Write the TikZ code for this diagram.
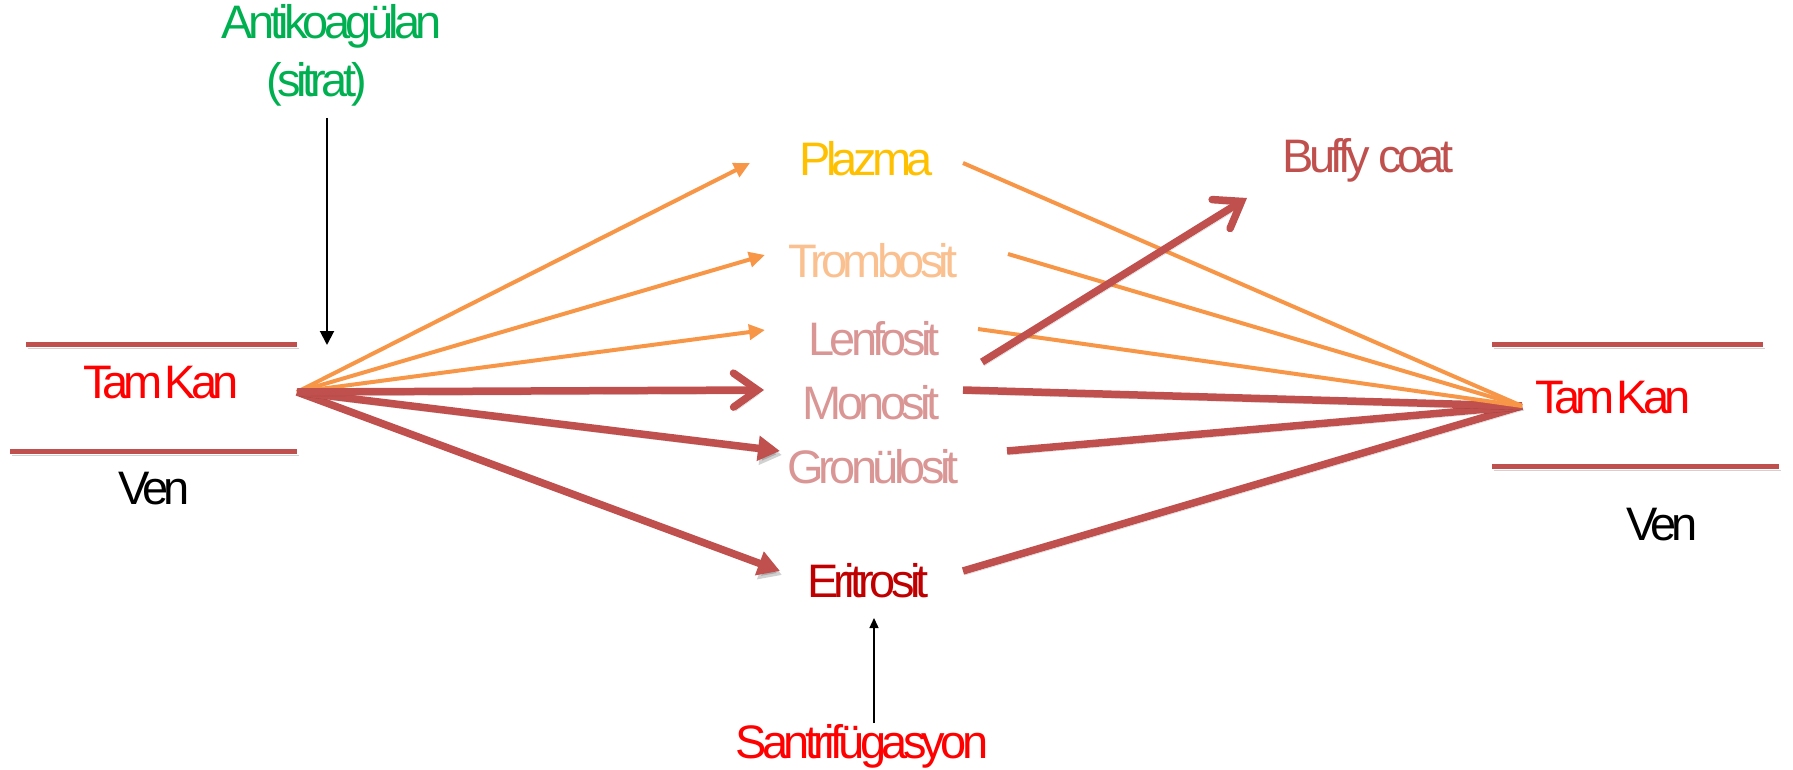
\documentclass[tikz,border=0pt]{standalone}
\usepackage{fontspec}
\setmainfont{Liberation Sans}
\newfontfamily\tightfont[LetterSpace=-10]{Liberation Sans}
\usetikzlibrary{arrows.meta}
\definecolor{veinred}{HTML}{C0504D}
\definecolor{orng}{HTML}{F79646}
\definecolor{plazmac}{HTML}{FFC000}
\definecolor{trombc}{HTML}{FAC090}
\definecolor{wbc}{HTML}{D99694}
\definecolor{eritc}{HTML}{C00000}
\definecolor{tamred}{HTML}{FF0000}
\definecolor{antig}{HTML}{00B050}
\begin{document}
\begin{tikzpicture}[x=1pt,y=-1pt,
  lbl/.style={inner sep=0pt, anchor=base, font=\tightfont\fontsize{47}{56}\selectfont},
  shadowed/.style={preaction={draw=black, opacity=0.18, transform canvas={shift={(2pt,-4pt)}}}},
  vein/.style={draw=veinred, line width=5pt, shadowed},
  oline/.style={draw=orng, line width=4pt},
  rline/.style={draw=veinred, line width=7.5pt, shadowed},
  otip/.style={-{Triangle[length=16pt,width=15pt]}},
  rtip/.style={-{Triangle[length=22pt,width=24pt]}},
  chev/.style={-{Straight Barb[length=24pt,width=34pt,line cap=round]}},
  blk/.style={draw=black}
]
\useasboundingbox (0,0) rectangle (1793,770);

% labels
\node[lbl, text=antig] (anti) at (332,39) {Antikoagülan};
\node[lbl, text=antig] (sitrat) at (317,97) {(sitrat)};
\node[lbl, text=tamred] (tkL) at (161,398) {Tam\kern-0.14em\ Kan};
\node[lbl, text=black] (venL) at (154,504) {Ven};
\node[lbl, text=plazmac] (plazma) at (866,176) {Plazma};
\node[lbl, text=trombc] (tromb) at (873,277) {Trombosit};
\node[lbl, text=wbc] (lenf) at (874,355) {Lenfosit};
\node[lbl, text=wbc] (mono) at (871,419) {Monosit};
\node[lbl, text=wbc] (gran) at (873,483) {Gronülosit};
\node[lbl, text=eritc] (erit) at (868,597) {Eritrosit};
\node[lbl, text=tamred] (santri) at (862,758) {Santrifügasyon};
\node[lbl, text=veinred] (buffy) at (1368,173) {Buffy coat};
\node[lbl, text=tamred] (tkR) at (1613,413) {Tam\kern-0.14em\ Kan};
\node[lbl, text=black] (venR) at (1662,540) {Ven};

% coordinates
\coordinate (veinL1a) at (26,344);  \coordinate (veinL1b) at (297,344);
\coordinate (veinL2a) at (10,451);  \coordinate (veinL2b) at (297,451);
\coordinate (veinR1a) at (1492,344); \coordinate (veinR1b) at (1763,344);
\coordinate (veinR2a) at (1492,466); \coordinate (veinR2b) at (1779,466);
\coordinate (L) at (297,392);
\coordinate (R) at (1522,406);
\coordinate (pIn) at (750,163);  \coordinate (pOut) at (963,163);
\coordinate (tIn) at (765,255);  \coordinate (tOut) at (1008,254);
\coordinate (lIn) at (765,330);  \coordinate (lOut) at (978,329);
\coordinate (mIn) at (764,390);  \coordinate (mOut) at (963,390);
\coordinate (gIn) at (780,451);  \coordinate (gOut) at (1007,451);
\coordinate (eIn) at (780,571);  \coordinate (eOut) at (963,571);
\coordinate (bStart) at (982,362); \coordinate (bTip) at (1247,198);
\coordinate (aStart) at (327,118); \coordinate (aTip) at (327,345);
\coordinate (sStart) at (874,723); \coordinate (sTip) at (874,618);

% veins
\draw[vein] (veinL1a) -- (veinL1b);
\draw[vein] (veinL2a) -- (veinL2b);
\draw[vein] (veinR1a) -- (veinR1b);
\draw[vein] (veinR2a) -- (veinR2b);

% right side lines
\draw[rline] (eOut) -- (R);
\draw[rline] (gOut) -- (R);
\draw[rline] (mOut) -- (R);
\draw[oline] (pOut) -- (R);
\draw[oline] (tOut) -- (R);
\draw[oline] (lOut) -- (R);

% left side arrows
\draw[rline, rtip] (L) -- (eIn);
\draw[rline, rtip] (L) -- (gIn);
\draw[oline, otip] (L) -- (pIn);
\draw[oline, otip] (L) -- (tIn);
\draw[oline, otip] (L) -- (lIn);
\draw[rline, chev] (L) -- (mIn);

% buffy coat
\draw[rline, chev] (bStart) -- (bTip);

% black arrows
\draw[blk, line width=2pt, -{Triangle[length=14pt,width=14pt]}] (aStart) -- (aTip);
\draw[blk, line width=1.4pt, -{Triangle[length=10pt,width=9pt]}] (sStart) -- (sTip);
\end{tikzpicture}
\end{document}
